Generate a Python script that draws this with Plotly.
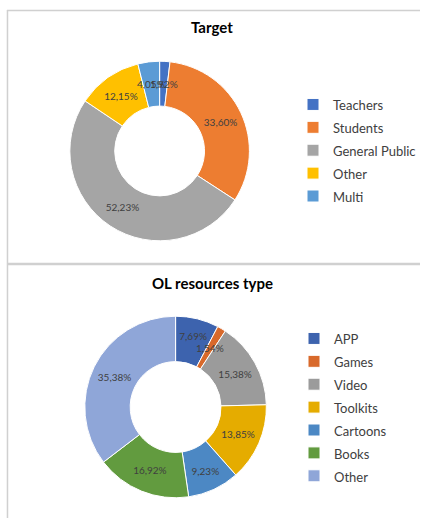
import math
import plotly.graph_objects as go

# Data
target_labels = ["Teachers", "Students", "General Public", "Other", "Multi"]
target_values = [1.92, 33.60, 52.23, 12.15, 4.05]
target_colors = ["#4472C4", "#ED7D31", "#A5A5A5", "#FFC000", "#5B9BD5"]

ol_labels = ["APP", "Games", "Video", "Toolkits", "Cartoons", "Books", "Other"]
ol_values = [7.69, 1.54, 15.38, 13.85, 9.23, 16.92, 35.38]
ol_colors = ["#3D63AE", "#D8692B", "#9B9B9B", "#E5AC00", "#4C88C4", "#629B3F", "#8FA6D8"]

W, H = 421, 518
FONT = "Lato, 'Open Sans', sans-serif"
TXT = "#404040"
HOLE = 0.5
SMALL = 5.0  # slices below this share get their label as a free text


def fmt(v):
    return f"{v:.2f}".replace(".", ",") + "%"


def legend_name(n, tag):
    # distinct markup per chart so equal labels are not merged across pies
    return f'<span style="font-size:13px" class="{tag}">{n}</span>'


# pie geometry in pixels (center x, center y from top, radius)
top_geo = (160, 151, 90)
bot_geo = (176, 407, 91)


def domain(geo):
    cx, cy, r = geo
    return dict(x=[(cx - r) / W, (cx + r) / W], y=[1 - (cy + r) / H, 1 - (cy - r) / H])


def small_labels(values, geo):
    cx, cy, r = geo
    total = sum(values)
    rm = r * (1 + HOLE) / 2
    anns = []
    cum = 0.0
    for v in values:
        share = v / total * 100
        mid = (cum + v / 2) / total * 2 * math.pi
        cum += v
        if share < SMALL:
            x = cx + rm * math.sin(mid)
            y = cy - rm * math.cos(mid)
            anns.append(dict(text=fmt(v), xref="paper", yref="paper", x=x / W, y=1 - y / H,
                             showarrow=False, xanchor="center", yanchor="middle",
                             font=dict(size=10, color=TXT, family=FONT)))
    return anns


def slice_text(values):
    total = sum(values)
    return [fmt(v) if v / total * 100 >= SMALL else "" for v in values]


fig = go.Figure()

fig.add_trace(go.Pie(
    labels=[legend_name(l, "t") for l in target_labels],
    values=target_values,
    text=slice_text(target_values),
    textinfo="text",
    textposition="inside",
    insidetextorientation="horizontal",
    textfont=dict(size=10, color=TXT, family=FONT),
    hole=HOLE,
    sort=False,
    direction="clockwise",
    rotation=0,
    marker=dict(colors=target_colors, line=dict(color="white", width=1)),
    domain=domain(top_geo),
    legend="legend",
))

fig.add_trace(go.Pie(
    labels=[legend_name(l, "o") for l in ol_labels],
    values=ol_values,
    text=slice_text(ol_values),
    textinfo="text",
    textposition="inside",
    insidetextorientation="horizontal",
    textfont=dict(size=10, color=TXT, family=FONT),
    hole=HOLE,
    sort=False,
    direction="clockwise",
    rotation=0,
    marker=dict(colors=ol_colors, line=dict(color="white", width=1)),
    domain=domain(bot_geo),
    legend="legend2",
))

border = "#D0D0D0"
shapes = [
    dict(type="line", xref="paper", yref="paper", x0=7.5 / W, x1=7.5 / W, y0=0, y1=1 - 10 / H,
         line=dict(color=border, width=1.5)),
    dict(type="line", xref="paper", yref="paper", x0=7 / W, x1=1, y0=1 - 10.5 / H, y1=1 - 10.5 / H,
         line=dict(color=border, width=1.5)),
    dict(type="line", xref="paper", yref="paper", x0=7 / W, x1=1, y0=1 - 264 / H, y1=1 - 264 / H,
         line=dict(color=border, width=2.5)),
]

annotations = [
    dict(text="<b>Target</b>", xref="paper", yref="paper", x=213 / W, y=1 - 27 / H,
         showarrow=False, font=dict(size=15, color="#000000", family=FONT), xanchor="center", yanchor="middle"),
    dict(text="<b>OL resources type</b>", xref="paper", yref="paper", x=213 / W, y=1 - 283 / H,
         showarrow=False, font=dict(size=15, color="#000000", family=FONT), xanchor="center", yanchor="middle"),
]
annotations += small_labels(target_values, top_geo)
annotations += small_labels(ol_values, bot_geo)

legend_common = dict(
    font=dict(size=15.3, color=TXT, family=FONT),
    bgcolor="rgba(0,0,0,0)",
    xanchor="left",
    yanchor="top",
    itemclick=False,
)

fig.update_layout(
    width=W, height=H,
    margin=dict(l=0, r=0, t=0, b=0),
    paper_bgcolor="white",
    plot_bgcolor="white",
    showlegend=True,
    legend=dict(x=294 / W, y=1 - 88 / H, **legend_common),
    legend2=dict(x=294 / W, y=1 - 322 / H, **legend_common),
    shapes=shapes,
    annotations=annotations,
)

fig.write_html("out.html", config={"displayModeBar": False},
               post_script="document.body.style.margin='0';")
